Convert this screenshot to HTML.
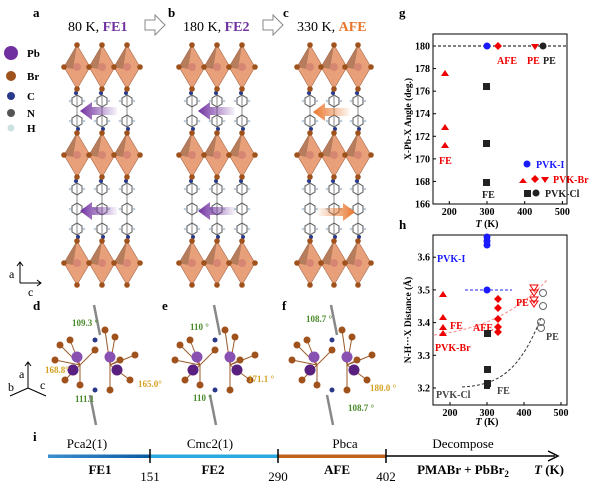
<!DOCTYPE html>
<html><head><meta charset="utf-8"><style>
body{margin:0;background:#fff}
svg{display:block;font-family:"Liberation Serif",serif}
</style></head><body>
<svg id="s" width="600" height="493" viewBox="0 0 600 493" xmlns="http://www.w3.org/2000/svg">
<defs>
<linearGradient id="pa" x1="0" x2="1"><stop offset="0" stop-color="#7030a0"/><stop offset="1" stop-color="#7030a0" stop-opacity="0.05"/></linearGradient>
<linearGradient id="oa" x1="0" x2="1"><stop offset="0" stop-color="#e8762c"/><stop offset="1" stop-color="#e8762c" stop-opacity="0.05"/></linearGradient>
<linearGradient id="ob" x1="1" x2="0"><stop offset="0" stop-color="#e8762c"/><stop offset="1" stop-color="#e8762c" stop-opacity="0.05"/></linearGradient>
<linearGradient id="bl" x1="0" x2="1"><stop offset="0" stop-color="#3a8fd0"/><stop offset="1" stop-color="#0a5aa0"/></linearGradient>
</defs>
<g id="mol"></g>
<g id="arr">
<path d="M80 111l12-9v5h25v8h-25v5z" fill="url(#pa)"/>
<path d="M80 211l12-9v5h25v8h-25v5z" fill="url(#pa)"/>
<path d="M198 111l12-9v5h25v8h-25v5z" fill="url(#pa)"/>
<path d="M198 211l12-9v5h25v8h-25v5z" fill="url(#pa)"/>
<path d="M313 112l12-9v5h25v8h-25v5z" fill="url(#oa)"/>
<path d="M355 212l-12-9v5h-25v8h25v5z" fill="url(#ob)"/>
</g>
<g font-weight="bold" font-size="13" fill="#000">
<text x="33" y="17">a</text><text x="168" y="17">b</text><text x="283" y="17">c</text>
<text x="399" y="17">g</text><text x="399" y="229">h</text>
<text x="33" y="310">d</text><text x="162" y="310">e</text><text x="282" y="310">f</text>
<text x="33" y="441">i</text>
</g>
<g font-size="14">
<text x="68" y="31">80 K, <tspan fill="#7030a0" font-weight="bold">FE1</tspan></text>
<text x="183" y="31">180 K, <tspan fill="#7030a0" font-weight="bold">FE2</tspan></text>
<text x="297" y="31">330 K, <tspan fill="#e8762c" font-weight="bold">AFE</tspan></text>
</g>
<g fill="#fff" stroke="#888" stroke-width="1">
<path d="M145 20h10v-5l10 10-10 10v-5h-10z"/>
<path d="M263 20h10v-5l10 10-10 10v-5h-10z"/>
</g>
<g font-size="11" font-weight="bold">
<circle cx="11" cy="53" r="7" fill="#7030a0"/><text x="27" y="57">Pb</text>
<circle cx="11" cy="76" r="5" fill="#a0521d"/><text x="27" y="80">Br</text>
<circle cx="11" cy="96" r="4" fill="#2a3a8a"/><text x="27" y="100">C</text>
<circle cx="11" cy="113" r="4" fill="#555"/><text x="27" y="117">N</text>
<circle cx="11" cy="128" r="3.5" fill="#cfe0e0"/><text x="27" y="132">H</text>
</g>
<g stroke="#000" fill="none" stroke-width="1"><path d="M20 283V262M17 266l3-4 3 4M20 283h21M37 280l4 3-4 3"/>
<path d="M28 388V362M25 366l3-4 3 4M28 388l-18 8M28 388l18 8"/></g>
<g font-size="12"><text x="9" y="278">a</text><text x="28" y="296">c</text>
<text x="19" y="378">a</text><text x="8" y="391">b</text><text x="40" y="389">c</text></g>
<g font-size="9" font-weight="bold">
<text x="72" y="326" fill="#4a8a2a">109.3 °</text><text x="75" y="402" fill="#4a8a2a">111.1</text>
<text x="45" y="373" fill="#d4a020">168.8°</text><text x="138" y="387" fill="#d4a020">165.0°</text>
<text x="190" y="330" fill="#4a8a2a">110 °</text><text x="193" y="401" fill="#4a8a2a">110 °</text>
<text x="248" y="382" fill="#d4a020">171.1 °</text>
<text x="306" y="322" fill="#4a8a2a">108.7 °</text><text x="348" y="411" fill="#4a8a2a">108.7 °</text>
<text x="370" y="391" fill="#d4a020">180.0 °</text>
</g>
<rect x="48" y="454.5" width="102" height="3.5" fill="url(#bl)"/>
<rect x="150" y="454.5" width="128" height="3.5" fill="#2aa8e0"/>
<rect x="278" y="454.5" width="108" height="3.5" fill="#c0601c"/>
<path d="M386 456H555" stroke="#000" stroke-width="1.5"/>
<path d="M548 451l10 5-10 5" stroke="#000" stroke-width="1.5" fill="none"/>
<g stroke="#000" stroke-width="1.5"><path d="M150 449v14M278 449v14M386 449v14"/></g>
<g font-size="13" text-anchor="middle">
<text x="87" y="448">Pca2(1)</text><text x="210" y="448">Cmc2(1)</text><text x="345" y="448">Pbca</text><text x="463" y="448">Decompose</text>
<text x="150" y="481">151</text><text x="278" y="481">290</text><text x="386" y="481">402</text>
<g font-weight="bold"><text x="100" y="474">FE1</text><text x="213" y="474">FE2</text><text x="337" y="474">AFE</text>
<text x="463" y="474">PMABr + PbBr<tspan font-size="9" dy="3">2</tspan></text>
<text x="549" y="474"><tspan font-style="italic">T</tspan> (K)</text></g>
</g>
<g font-size="10" font-weight="bold">
<rect x="433" y="34" width="134" height="170" fill="none" stroke="#000"/>
<path d="M433 46H567" stroke="#000" stroke-dasharray="3,2"/>
<g id="gt"></g>
<text transform="translate(411,119) rotate(-90)" text-anchor="middle" font-size="9.5">X-Pb-X Angle (deg.)</text>
<text x="487" y="227" text-anchor="middle"><tspan font-style="italic">T</tspan> (K)</text>
<g fill="#e00">
<path d="M445 70l-4 6h8z"/><path d="M445 124l-4 6h8z"/><path d="M445 142l-4 6h8z"/>
<path d="M498 42l4 4-4 4-4-4z"/><path d="M531 44h8l-4 6z"/>
<text x="439" y="164">FE</text><text x="497" y="64">AFE</text><text x="527" y="64">PE</text>
<path d="M523 178l-4 5h8z"/><path d="M535 175l4 4-4 4-4-4z"/><path d="M541 177h8l-4 6z"/>
<text x="553" y="183">PVK-Br</text>
</g>
<g fill="#222"><rect x="483" y="83" width="7" height="7"/><rect x="483" y="140" width="7" height="7"/><rect x="483" y="179" width="7" height="7"/>
<circle cx="543" cy="46" r="3.5"/><text x="543" y="64">PE</text><text x="482" y="198">FE</text>
<rect x="524" y="190" width="7" height="7"/><circle cx="536" cy="193" r="3.5"/><text x="545" y="197">PVK-Cl</text></g>
<g fill="#1a1aff"><circle cx="487" cy="46" r="3.5"/><circle cx="527" cy="164" r="3.5"/><text x="536" y="168">PVK-I</text></g>
</g>
<g font-size="10" font-weight="bold">
<rect x="433" y="235" width="134" height="170" fill="none" stroke="#000"/>
<g id="ht"></g>
<text transform="translate(411,320) rotate(-90)" text-anchor="middle" font-size="9.5">N-H···X Distance (Å)</text>
<text x="487" y="425" text-anchor="middle"><tspan font-style="italic">T</tspan> (K)</text>
<path d="M465 290H512" stroke="#22f" stroke-dasharray="3,2"/>
<path d="M434 335 C470 330,510 320,547 280" stroke="#f88" fill="none" stroke-dasharray="3,2"/>
<path d="M462 387 C500 385,520 370,541 318" stroke="#333" fill="none" stroke-dasharray="3,2"/>
<g fill="#1a1aff"><circle cx="487" cy="237" r="3.5"/><circle cx="487" cy="241" r="3.5"/><circle cx="487" cy="245" r="3.5"/><circle cx="487" cy="290" r="3.5"/><text x="437" y="262">PVK-I</text></g>
<g fill="#e00"><path d="M443 291l-4 6h8z"/><path d="M443 314l-4 6h8z"/><path d="M443 324l-4 6h8z"/><path d="M443 330l-4 6h8z"/>
<path d="M498 295l4 4-4 4-4-4z"/><path d="M498 304l4 4-4 4-4-4z"/><path d="M498 315l4 4-4 4-4-4z"/><path d="M498 323l4 4-4 4-4-4z"/><path d="M498 328l4 4-4 4-4-4z"/>
<text x="450" y="329">FE</text><text x="473" y="331">AFE</text><text x="516" y="306">PE</text><text x="435" y="351">PVK-Br</text></g>
<g fill="none" stroke="#e00"><path d="M530 285h8l-4 6z"/><path d="M530 290h8l-4 6z"/><path d="M530 297h8l-4 6z"/><path d="M530 301h8l-4 6z"/></g>
<g fill="none" stroke="#666"><circle cx="543" cy="293" r="3.5"/><circle cx="543" cy="306" r="3.5"/><circle cx="541" cy="322" r="3.5"/><circle cx="541" cy="328" r="3.5"/></g>
<g fill="#222"><rect x="484" y="330" width="7" height="7"/><rect x="484" y="366" width="7" height="7"/><rect x="484" y="380" width="7" height="7"/><rect x="484" y="383" width="6" height="6"/>
<text x="546" y="340" fill="#444">PE</text><text x="497" y="394" fill="#444">FE</text><text x="436" y="398" fill="#444">PVK-Cl</text></g>
</g>
</svg>
<script>
var NS="http://www.w3.org/2000/svg",s=document.getElementById("s"),m=document.getElementById("mol");
function el(t,a,p){var e=document.createElementNS(NS,t);for(var k in a)e.setAttribute(k,a[k]);(p||m).appendChild(e);return e;}
function oct(cx,cy){el("path",{d:"M"+cx+" "+(cy-22)+"L"+(cx+13)+" "+cy+"L"+cx+" "+(cy+22)+"L"+(cx-13)+" "+cy+"Z",fill:"#e8a07a",stroke:"#a86a4a","stroke-width":0.6});
el("path",{d:"M"+cx+" "+(cy-22)+"L"+(cx-13)+" "+cy+"L"+(cx-4)+" "+(cy+2)+"Z",fill:"#a06e50",opacity:0.7});
el("circle",{cx:cx,cy:cy,r:4,fill:"#d07a70",opacity:0.7});
[[0,-22],[0,22],[-13,0],[13,0]].forEach(function(d){el("circle",{cx:cx+d[0],cy:cy+d[1],r:2.8,fill:"#a0521d"});});}
function chain(cx,y0,y1){el("path",{d:"M"+cx+" "+y0+"V"+y1,stroke:"#888","stroke-width":1});
for(var y=y0+12;y<y1-8;y+=20){el("polygon",{points:[[0,-6],[5,-3],[5,3],[0,6],[-5,3],[-5,-3]].map(function(p){return (cx+p[0])+","+(y+p[1]);}).join(" "),fill:"none",stroke:"#666","stroke-width":1.1});
el("circle",{cx:cx+7,cy:y,r:1.3,fill:"#bcd"});el("circle",{cx:cx-7,cy:y,r:1.3,fill:"#bcd"});}
el("circle",{cx:cx-1,cy:y0+4,r:2,fill:"#2a3a8a"});el("circle",{cx:cx+1,cy:y1-4,r:2,fill:"#2a3a8a"});}
[[77,102,127],[192,217,242],[310,334,358]].forEach(function(xs){
xs.forEach(function(x){chain(x,89,133);chain(x,177,241);});
[67,155,263].forEach(function(y){xs.forEach(function(x){oct(x,y);});});});
[[95,365],[215,365],[332,365]].forEach(function(c){var x=c[0],y=c[1];
el("path",{d:"M"+(x+5)+" "+(y-30)+"l-6-30M"+(x-5)+" "+(y+30)+"l6 30",stroke:"#888","stroke-width":2.5});
[[-40,-5],[-25,-25],[-30,15],[0,-15],[10,-35],[25,-5],[40,-10],[35,15],[-15,20],[15,25],[-35,-20],[20,-28]].forEach(function(d){el("path",{d:"M"+(x+(d[0]>0?15:-15))+" "+y+"L"+(x+d[0])+" "+(y+d[1]),stroke:"#9a5a2a"});el("circle",{cx:x+d[0],cy:y+d[1],r:3.5,fill:"#a0521d"});});
[[-18,-8],[15,-8],[-22,5],[22,5]].forEach(function(d,i){el("circle",{cx:x+d[0],cy:y+d[1],r:5.5,fill:i<2?"#8850b0":"#5a2080"});});
el("circle",{cx:x,cy:y-25,r:2.5,fill:"#2a3a8a"});el("circle",{cx:x,cy:y+25,r:2.5,fill:"#2a3a8a"});});
var gt=document.getElementById("gt");
for(var v=166;v<=180;v+=2){var y=204-(v-166)/14*158;el("path",{d:"M433 "+y+"h3",stroke:"#000"},gt);el("text",{x:430,y:y+3.5,"text-anchor":"end"},gt).textContent=v;}
[200,300,400,500].forEach(function(t){var x=487+(t-300)*0.377;el("path",{d:"M"+x+" 204v-3",stroke:"#000"},gt);el("text",{x:x,y:215,"text-anchor":"middle"},gt).textContent=t;});
var ht=document.getElementById("ht");
[3.2,3.3,3.4,3.5,3.6].forEach(function(v){var y=388-(v-3.2)/0.1*32.7;el("path",{d:"M433 "+y+"h3",stroke:"#000"},ht);el("text",{x:430,y:y+3.5,"text-anchor":"end"},ht).textContent=v.toFixed(1);});
[200,300,400,500].forEach(function(t){var x=487+(t-300)*0.37;el("path",{d:"M"+x+" 405v-3",stroke:"#000"},ht);el("text",{x:x,y:416,"text-anchor":"middle"},ht).textContent=t;});
</script>
</body></html>
